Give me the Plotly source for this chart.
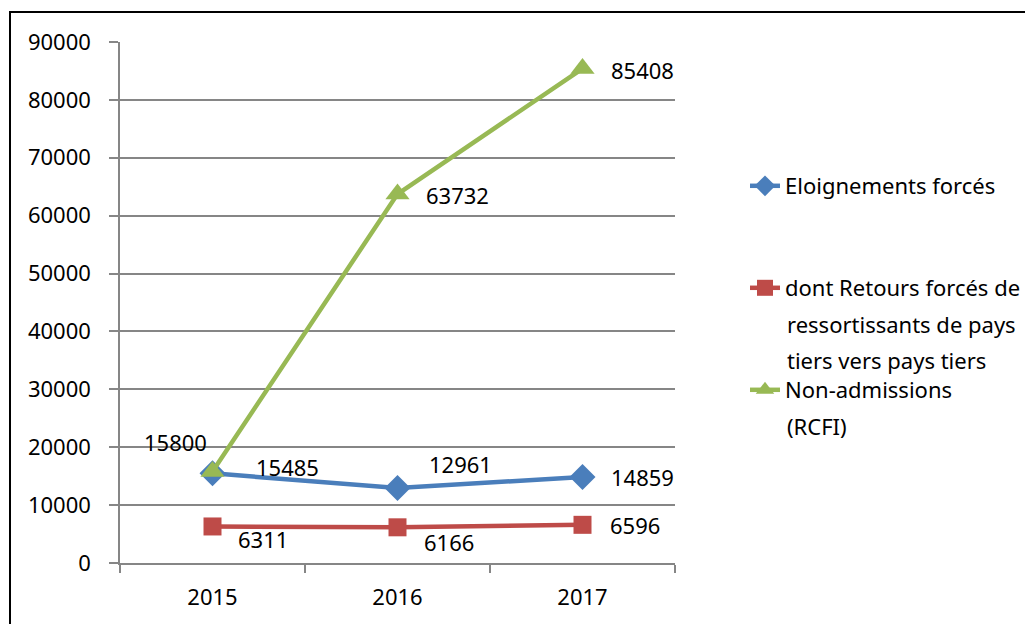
import plotly.graph_objects as go

years = ["2015", "2016", "2017"]
eloignements = [15485, 12961, 14859]
retours = [6311, 6166, 6596]
non_admissions = [15800, 63732, 85408]

legend_lines = [
    ["Eloignements forcés"],
    ["dont Retours forcés de", "ressortissants de pays", "tiers vers pays tiers"],
    ["Non-admissions", "(RCFI)"],
]
colors = ["#4A7EBB", "#BE4B48", "#98B954"]
symbols = ["diamond", "square", "triangle-up"]
msizes = [20, 18, 21]
series = [eloignements, retours, non_admissions]
legends = ["legend", "legend2", "legend3"]

FONT = "Noto Sans"
fig = go.Figure()
for vals, lines, c, s, ms, lg in zip(series, legend_lines, colors, symbols, msizes, legends):
    fig.add_trace(go.Scatter(
        x=years, y=vals, name=lines[0], mode="lines+markers",
        line=dict(color=c, width=4.5),
        marker=dict(symbol=s, size=ms, color=c),
        legend=lg,
    ))

# label offsets (xshift, yshift, xanchor) per series/point
offsets = [
    [(41, 6, "left"), (29, 24, "left"), (26, 0, "left")],
    [(23, -13, "left"), (24, -15, "left"), (25, 0, "left")],
    [(-4, 30, "right"), (26, -1, "left"), (26, -1, "left")],
]
for vals, offs in zip(series, offsets):
    for i, (v, (dx, dy, xa)) in enumerate(zip(vals, offs)):
        fig.add_annotation(x=i, y=v, text=str(v), showarrow=False,
                           xanchor=xa, yanchor="middle", xshift=dx, yshift=dy,
                           font=dict(family=FONT, size=22, color="black"))

# page-pixel -> paper helpers (plot area: x 120..675, y 42..563 on the page)
def px(X):
    return (X - 120) / 555

def py(Y):
    return (563 - Y) / 521

# legend positions: first-line centres and continuation lines
first_line_y = [186, 288, 390]
for lg, Y in zip(legends, first_line_y):
    fig.update_layout({lg: dict(x=px(745), y=py(Y), xanchor="left", yanchor="middle",
                                font=dict(size=22), bgcolor="rgba(0,0,0,0)")})
for lines, Y in zip(legend_lines, first_line_y):
    for k, t in enumerate(lines[1:], start=1):
        fig.add_annotation(xref="paper", yref="paper", x=px(785), y=py(Y + 36 * k),
                           text=t, showarrow=False, xanchor="left", yanchor="middle",
                           font=dict(family=FONT, size=22, color="black"))

# outer border (top and left visible)
fig.add_shape(type="rect", xref="paper", yref="paper",
              x0=px(10), x1=2.0, y0=-0.4, y1=py(12),
              line=dict(color="black", width=2), layer="below")

fig.update_layout(
    width=1033, height=624,
    margin=dict(l=112, r=366, t=34, b=69),
    paper_bgcolor="white", plot_bgcolor="white",
    font=dict(family=FONT, size=22, color="black"),
    showlegend=True,
    xaxis=dict(type="category", range=[-0.5, 2.5], tickson="boundaries", ticks="outside",
               ticklen=8, tickcolor="#868686", tickwidth=1.5,
               showline=True, linecolor="#868686", linewidth=1.5,
               showgrid=False, ticklabelstandoff=14,
               tickfont=dict(size=22)),
    yaxis=dict(range=[0, 90000], tickvals=list(range(0, 90001, 10000)),
               tickformat="d",
               ticks="outside", ticklen=9, tickcolor="#868686", tickwidth=1.5,
               showline=True, linecolor="#868686", linewidth=1.5,
               gridcolor="#868686", gridwidth=1.5, zeroline=False,
               ticklabelstandoff=14, tickfont=dict(size=22)),
)

fig.write_html("out.html")
